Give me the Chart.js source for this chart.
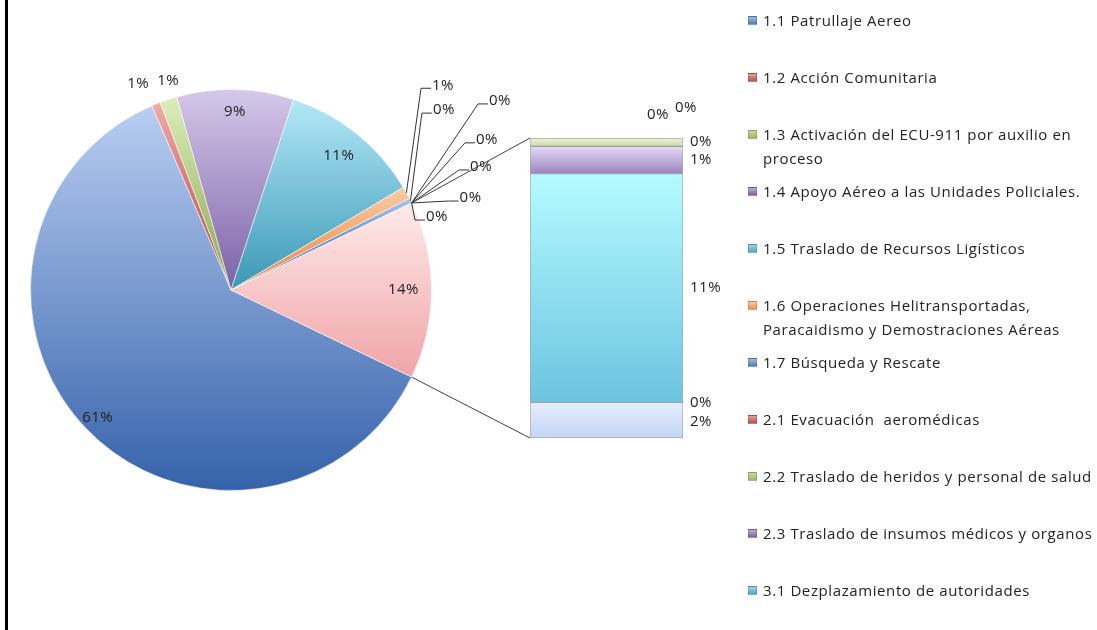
<!DOCTYPE html>
<html>
<head>
<meta charset="utf-8">
<script src="https://cdn.jsdelivr.net/npm/chart.js@4.4.1/dist/chart.umd.min.js"></script>
<style>
  body { margin: 0; background: #fff; }
  #lienzo { position: relative; width: 1097px; height: 630px; overflow: hidden; font-family: 'Open Sans', sans-serif; }
  #marco { position: absolute; left: 5px; top: 0; width: 3px; height: 630px; background: #000; }
  canvas { position: absolute; left: 0; top: 0; }
  .item { position: absolute; left: 763px; font-size: 15px; letter-spacing: 0.6px; line-height: 24px; color: #222; white-space: pre; }
  .cuadro { position: absolute; left: -15px; top: 8px; width: 9px; height: 9px; box-sizing: border-box; border: 1px solid rgba(0,0,0,0.15); }
</style>
</head>
<body>
<div id="lienzo">
  <div id="marco"></div>
  <canvas id="pastel" width="1097" height="630"></canvas>
  <canvas id="barra" width="1097" height="630"></canvas>
  <div id="leyenda"></div>
</div>
<script>
// categorias (las 11 primeras son las que se ven en la leyenda)
const categorias = [
  '1.1 Patrullaje Aereo',
  '1.2 Acción Comunitaria',
  '1.3 Activación del ECU-911 por auxilio en\nproceso',
  '1.4 Apoyo Aéreo a las Unidades Policiales.',
  '1.5 Traslado de Recursos Ligísticos',
  '1.6 Operaciones Helitransportadas,\nParacaidismo y Demostraciones Aéreas',
  '1.7 Búsqueda y Rescate',
  '2.1 Evacuación  aeromédicas',
  '2.2 Traslado de heridos y personal de salud',
  '2.3 Traslado de insumos médicos y organos',
  '3.1 Dezplazamiento de autoridades',
  '3.2', '3.3', '3.4', '3.5', '3.6', '3.7', '3.8', '3.9'
];
// porcentajes
const valores = [61.4, 0.7, 1.4, 9.4, 11.4, 1.0, 0.4, 0, 0, 0, 0, 0,
                 0, 0, 0.4, 1.3, 10.9, 0, 1.7];
const enPastel = 12;       // las primeras van al pastel, el resto a la barra
const leyendaVisible = 11;

// colores (arriba, abajo) de cada categoria
const colores = [
  ['#B9CEF2', '#3562AA'], ['#F2AAA8', '#B3403C'], ['#DDEDBC', '#86A84A'],
  ['#D6C8EA', '#7A62A6'], ['#B4E8F8', '#3A98B6'], ['#FCCBA4', '#E8853A'],
  ['#A6C2F0', '#2C5BA6'], ['#F2AAA8', '#B3403C'], ['#DDEDBC', '#86A84A'],
  ['#D6C8EA', '#6E559A'], ['#B4E8F8', '#3A98B6'], ['#FCCBA4', '#E07C30'],
  ['#E6EEFD', '#C2D5F4'], ['#FDE2E2', '#F2B4B4'], ['#EEF6DA', '#C6DA9E'],
  ['#E8DAF8', '#9A84BE'], ['#B4FBFF', '#6CC4E0'], ['#FFE0C6', '#F6B47E'],
  ['#E6EEFD', '#C2D5F4']
];
const colorOtro = ['#FFEAEA', '#F0A4A8'];
const basesLeyenda = ['#4F81BD', '#C0504D', '#9BBB59', '#8064A2', '#4BACC6', '#F79646',
                      '#4F81BD', '#C0504D', '#9BBB59', '#8064A2', '#4BACC6'];

// donde va cada etiqueta del pastel
const posEtiquetas = [
  { modo: 'dentro', f: 0.92 },
  { modo: 'libre', ang: -114.2, f: 1.13 },
  { modo: 'libre', ang: -106.7, f: 1.09 },
  { modo: 'dentro', f: 0.89 },
  { modo: 'dentro', f: 0.86 },
  { modo: 'guia', ang: -44, f: 1.47 },
  { modo: 'guia', ang: -40.2, f: 1.39 },
  { modo: 'guia', ang: -35.1, f: 1.64 },
  { modo: 'guia', ang: -30.4, f: 1.48 },
  { modo: 'guia', ang: -26.2, f: 1.39 },
  { modo: 'guia', ang: -21, f: 1.28 },
  { modo: 'guia', ang: -19.5, f: 1.09 },
  { modo: 'dentro', f: 0.86 }
];
const desplazBarra = [[-43, -23], [-15, -30], [0, 0], [0, 0], [0, 0], [0, 0], [0, 2]];

const total = valores.reduce((a, b) => a + b, 0);
const valoresBarra = valores.slice(enPastel);
const otro = valoresBarra.reduce((a, b) => a + b, 0);
const datosPastel = valores.slice(0, enPastel).concat([otro]);
const etiquetasPastel = categorias.slice(0, enPastel).concat(['Otro']);
const coloresPastel = colores.slice(0, enPastel).concat([colorOtro]);
const rotacion = 90 + otro / total * 180;   // el sector "Otro" queda centrado a la derecha
const fuente = '15px "Open Sans"';
const colorTexto = '#222';

function pct(v) { return Math.round(v / total * 100) + '%'; }

// degradado vertical de cada sector segun su propia caja
function fondoSector(c) {
  const chart = c.chart, a = chart.chartArea, par = coloresPastel[c.dataIndex];
  if (!a) return par[1];
  const cy = (a.top + a.bottom) / 2, r = Math.min(a.right - a.left, a.bottom - a.top) / 2;
  const antes = datosPastel.slice(0, c.dataIndex).reduce((s, v) => s + v, 0);
  const ini = (rotacion - 90) * Math.PI / 180 + antes / total * 2 * Math.PI;
  const fin = ini + datosPastel[c.dataIndex] / total * 2 * Math.PI;
  const ys = [cy, cy + r * Math.sin(ini), cy + r * Math.sin(fin)];
  for (let k = -2; k <= 4; k++) {
    const t = Math.PI / 2 + k * Math.PI;
    if (t > ini && t < fin) ys.push(cy + r * Math.sin(t));
  }
  const y0 = Math.min(...ys), y1 = Math.max(...ys);
  if (y1 - y0 < 1) return par[1];
  const g = chart.ctx.createLinearGradient(0, y0, 0, y1);
  g.addColorStop(0, par[0]);
  g.addColorStop(1, par[1]);
  return g;
}

const etiquetasPie = {
  id: 'etiquetasPie',
  afterDatasetsDraw(chart) {
    const ctx = chart.ctx;
    const meta = chart.getDatasetMeta(0);
    ctx.save();
    ctx.font = fuente;
    ctx.letterSpacing = '0.5px';
    ctx.fillStyle = colorTexto;
    ctx.strokeStyle = '#333';
    ctx.lineWidth = 1;
    ctx.textBaseline = 'middle';
    ctx.textAlign = 'center';
    meta.data.forEach((arc, i) => {
      const p = posEtiquetas[i];
      const txt = pct(datosPastel[i]);
      const mid = (arc.startAngle + arc.endAngle) / 2;
      const r = arc.outerRadius;
      if (p.modo === 'dentro') {
        ctx.fillText(txt, arc.x + p.f * r * Math.cos(mid), arc.y + p.f * r * Math.sin(mid));
        return;
      }
      const ang = p.ang * Math.PI / 180;
      const lx = arc.x + p.f * r * Math.cos(ang), ly = arc.y + p.f * r * Math.sin(ang);
      if (p.modo === 'guia') {
        const izq = lx - ctx.measureText(txt).width / 2;
        ctx.beginPath();
        ctx.moveTo(arc.x + r * Math.cos(mid), arc.y + r * Math.sin(mid));
        ctx.lineTo(izq - 11, ly + 3);
        ctx.lineTo(izq - 1, ly + 3);
        ctx.stroke();
      }
      ctx.fillText(txt, lx, ly);
    });
    ctx.restore();
  }
};

const pastel = new Chart(document.getElementById('pastel'), {
  type: 'pie',
  data: {
    labels: etiquetasPastel,
    datasets: [{
      data: datosPastel,
      backgroundColor: fondoSector,
      borderColor: 'rgba(255,255,255,0.55)',
      borderWidth: 1
    }]
  },
  options: {
    responsive: false,
    animation: false,
    rotation: rotacion,
    layout: { padding: { left: 30, top: 89, right: 665, bottom: 139 } },
    plugins: { legend: { display: false }, tooltip: { enabled: false } }
  },
  plugins: [etiquetasPie]
});

// barra: la primera categoria de la barra queda arriba
function limitesBarra(k) {
  const debajo = valoresBarra.slice(k + 1).reduce((s, v) => s + v, 0);
  return [debajo, debajo + valoresBarra[k]];
}

function fondoBarra(c) {
  const chart = c.chart, k = c.dataset.item, par = colores[enPastel + k];
  if (!chart.chartArea || !chart.scales.y) return par[1];
  const [b, t] = limitesBarra(k);
  const y0 = chart.scales.y.getPixelForValue(t), y1 = chart.scales.y.getPixelForValue(b);
  if (y1 - y0 < 1) return par[1];
  const g = chart.ctx.createLinearGradient(0, y0, 0, y1);
  g.addColorStop(0, par[0]);
  g.addColorStop(1, par[1]);
  return g;
}

const datasetsBarra = valoresBarra.map((v, k) => ({
  label: categorias[enPastel + k],
  item: k,
  data: [v],
  backgroundColor: fondoBarra,
  borderColor: 'rgba(140,150,165,0.8)',
  borderWidth: 1,
  borderSkipped: false,
  barPercentage: 1,
  categoryPercentage: 1
})).reverse();

const conectores = {
  id: 'conectores',
  afterDatasetsDraw(chart) {
    const ctx = chart.ctx;
    const arc = pastel.getDatasetMeta(0).data[datosPastel.length - 1];
    const y = chart.scales.y;
    const bar = chart.getDatasetMeta(0).data[0];
    const izqBarra = bar.x - bar.width / 2, derBarra = bar.x + bar.width / 2;
    const r = arc.outerRadius;
    ctx.save();
    ctx.strokeStyle = '#404040';
    ctx.lineWidth = 1;
    ctx.beginPath();
    ctx.moveTo(arc.x + r * Math.cos(arc.startAngle), arc.y + r * Math.sin(arc.startAngle));
    ctx.lineTo(izqBarra, y.getPixelForValue(otro));
    ctx.moveTo(arc.x + r * Math.cos(arc.endAngle), arc.y + r * Math.sin(arc.endAngle));
    ctx.lineTo(izqBarra, y.getPixelForValue(0));
    ctx.stroke();
    // etiquetas de la barra
    ctx.font = fuente;
    ctx.letterSpacing = '0.5px';
    ctx.fillStyle = colorTexto;
    ctx.textAlign = 'left';
    ctx.textBaseline = 'middle';
    valoresBarra.forEach((v, k) => {
      const [b, t] = limitesBarra(k);
      const cy = (y.getPixelForValue(b) + y.getPixelForValue(t)) / 2;
      const d = desplazBarra[k];
      ctx.fillText(pct(v), derBarra + 7 + d[0], cy + d[1]);
    });
    ctx.restore();
  }
};

new Chart(document.getElementById('barra'), {
  type: 'bar',
  data: { labels: ['Otro'], datasets: datasetsBarra },
  options: {
    responsive: false,
    animation: false,
    layout: { padding: { left: 530, right: 414, top: 138, bottom: 192 } },
    scales: {
      x: { stacked: true, display: false },
      y: { stacked: true, display: false, min: 0, max: otro }
    },
    plugins: { legend: { display: false }, tooltip: { enabled: false } }
  },
  plugins: [conectores]
});

// leyenda (solo las que caben, como en el original)
const leyenda = document.getElementById('leyenda');
categorias.slice(0, leyendaVisible).forEach((nombre, i) => {
  const div = document.createElement('div');
  div.className = 'item';
  div.style.top = (20 + i * 57 - 12) + 'px';
  const c = document.createElement('span');
  c.className = 'cuadro';
  c.style.background = 'linear-gradient(' + basesLeyenda[i] + '88, ' + basesLeyenda[i] + ')';
  div.appendChild(c);
  div.appendChild(document.createTextNode(nombre));
  leyenda.appendChild(div);
});
</script>
</body>
</html>
